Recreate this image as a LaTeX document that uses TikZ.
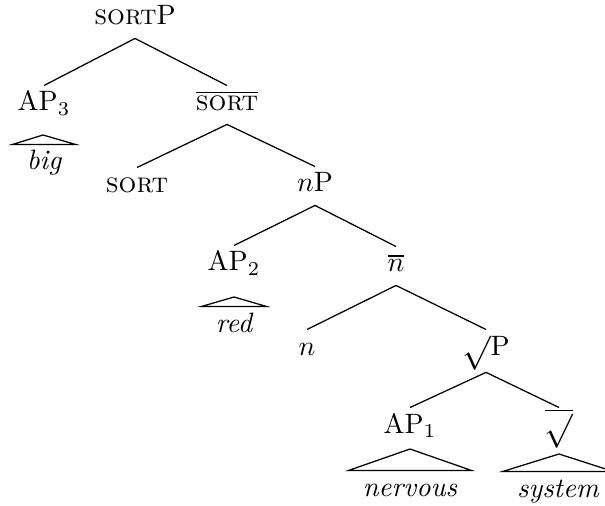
\documentclass[tikz,border=0pt]{standalone}
\usepackage{graphicx}
\begin{document}
\begin{tikzpicture}[x=0.357pt,y=-0.357pt,
  tn/.style={anchor=base,inner sep=0pt,text height=8.9pt,text depth=4.6pt},
  wd/.style={anchor=base,inner xsep=5pt,inner ysep=0pt,text height=8.9pt,text depth=0pt,font=\itshape},
  br/.style={line width=0.45pt}]
\useasboundingbox (0,0) rectangle (605,506);
% nodes
\node[tn] (sortP) at (135,25) {\textsc{sort}P};
\node[tn] (AP3) at (44,111) {AP$_3$};
\node[tn] (sortbar) at (227,111) {$\overline{\mbox{\textsc{sort}}}$};
\node[tn] (sort) at (137,193) {\textsc{sort}};
\node[tn] (nP) at (315,192) {$n$P};
\node[tn] (AP2) at (234,271) {AP$_2$};
\node[tn] (nbar) at (396,272) {$\overline{n}$};
\node[tn] (n) at (307,355) {$n$};
\node[tn,text depth=6pt] (rootP) at (486,355) {\raisebox{-2.5pt}{\scalebox{1.22}{$\surd$}}P};
\node[tn] (AP1) at (410,433) {AP$_1$};
\node[tn,text height=3.9pt] (rootbar) at (559,419) {$\overline{\mbox{\raisebox{-7.5pt}{\scalebox{1.22}{$\surd$}}}}$};
% words under roofs
\node[wd] (big) at (44,170) {big};
\node[wd] (red) at (234,332) {red};
\node[wd] (nervous) at (410,496) {nervous};
\node[wd] (system) at (558,497) {system};
% roof apexes
\coordinate (t3) at (43,135);
\coordinate (t2) at (234,297);
\coordinate (t1) at (410,449);
\coordinate (t0) at (559,454);
% branches
\draw[br] (sortP.south) -- (AP3.north);
\draw[br] (sortP.south) -- (sortbar.north);
\draw[br] (sortbar.south) -- (sort.north);
\draw[br] (sortbar.south) -- (nP.north);
\draw[br] (nP.south) -- (AP2.north);
\draw[br] (nP.south) -- (nbar.north);
\draw[br] (nbar.south) -- (n.north);
\draw[br] (nbar.south) -- (rootP.north);
\draw[br] (rootP.south) -- (AP1.north);
\draw[br] (rootP.south) -- (rootbar.north);
% roofs
\draw[br] (t3) -- (big.north west) -- (big.north east) -- cycle;
\draw[br] (t2) -- (red.north west) -- (red.north east) -- cycle;
\draw[br] (t1) -- (nervous.north west) -- (nervous.north east) -- cycle;
\draw[br] (t0) -- (system.north west) -- (system.north east) -- cycle;
\end{tikzpicture}
\end{document}
